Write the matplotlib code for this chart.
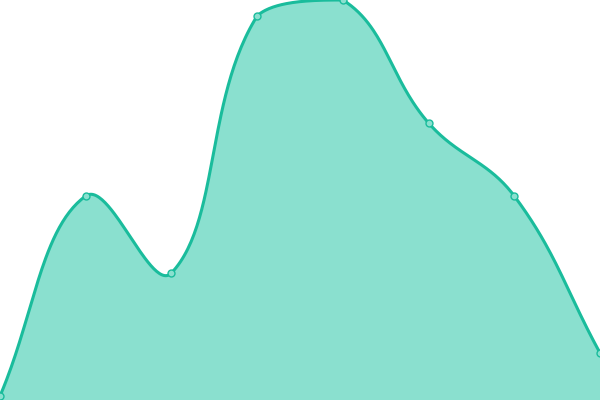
import numpy as np
import matplotlib
matplotlib.use("Agg")
import matplotlib.pyplot as plt

# data (8 evenly spaced points)
labels = ["1", "2", "3", "4", "5", "6", "7", "8"]
values = [4, 204, 127, 384, 400, 277, 204, 47]

line_color = "#1abc9c"
fill_color = "#8ae0cf"
tension = 0.4


def spline_curve(px, py, t=0.4, w=600, h=400, n=60):
    # Chart.js-like bezier spline, control points capped to the plot area
    pts = list(zip(px, py))
    cps = []
    for i, p1 in enumerate(pts):
        p0 = pts[i - 1] if i > 0 else p1
        p2 = pts[i + 1] if i < len(pts) - 1 else p1
        d01 = np.hypot(p1[0] - p0[0], p1[1] - p0[1])
        d12 = np.hypot(p2[0] - p1[0], p2[1] - p1[1])
        s01 = d01 / (d01 + d12) if d01 + d12 else 0
        s12 = d12 / (d01 + d12) if d01 + d12 else 0
        fa, fb = t * s01, t * s12
        prev = (p1[0] - fa * (p2[0] - p0[0]), p1[1] - fa * (p2[1] - p0[1]))
        nxt = (p1[0] + fb * (p2[0] - p0[0]), p1[1] + fb * (p2[1] - p0[1]))
        prev = (min(max(prev[0], 0), w), min(max(prev[1], 0), h))
        nxt = (min(max(nxt[0], 0), w), min(max(nxt[1], 0), h))
        cps.append((prev, nxt))
    xs, ys = [], []
    for i in range(len(pts) - 1):
        a = np.array(pts[i])
        b = np.array(cps[i][1])
        c = np.array(cps[i + 1][0])
        d = np.array(pts[i + 1])
        s = np.linspace(0, 1, n)[:, None]
        seg = (1 - s)**3 * a + 3 * (1 - s)**2 * s * b + 3 * (1 - s) * s**2 * c + s**3 * d
        xs.append(seg[:, 0])
        ys.append(seg[:, 1])
    return np.concatenate(xs), np.concatenate(ys)


W, H = 600, 400
xpix = np.arange(len(values)) * W / (len(values) - 1)
xs, ys = spline_curve(xpix, values, tension, W, H)

fig = plt.figure(figsize=(6, 4), dpi=100)
ax = fig.add_axes([0, 0, 1, 1])
ax.fill_between(xs, ys, 0, color=fill_color, linewidth=0)
ax.plot(xs, ys, color=line_color, linewidth=2.2, solid_capstyle="round", clip_on=False)
ax.plot(xpix, values, "o", markersize=5, markerfacecolor=fill_color,
        markeredgecolor=line_color, markeredgewidth=1, clip_on=False, zorder=3)

ax.set_xlim(0, W)
ax.set_ylim(0, H)
ax.axis("off")

plt.savefig("out.png", dpi=100)
